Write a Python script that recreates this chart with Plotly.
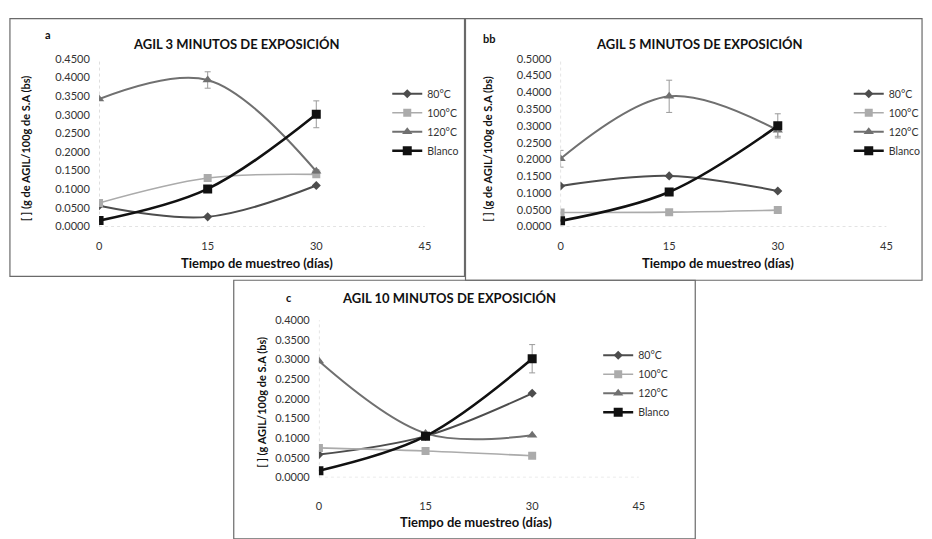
import plotly.graph_objects as go

W, H = 932, 539

# ---------------- data ----------------
dias = [0, 15, 30]
series_names = ["80°C", "100°C", "120°C", "Blanco"]

# Panel a: 3 minutos
a_80 = [0.056, 0.026, 0.110]
a_100 = [0.063, 0.130, 0.140]
a_120 = [0.342, 0.393, 0.148]
a_blanco = [0.016, 0.101, 0.301]
a_err_120 = [0.0, 0.022, 0.005]
a_err_blanco = [0.0, 0.0, 0.036]

# Panel b: 5 minutos
b_80 = [0.121, 0.151, 0.106]
b_100 = [0.042, 0.043, 0.049]
b_120 = [0.202, 0.388, 0.287]
b_blanco = [0.017, 0.103, 0.300]
b_err_120 = [0.025, 0.048, 0.018]
b_err_blanco = [0.0, 0.0, 0.036]

# Panel c: 10 minutos
c_80 = [0.058, 0.105, 0.214]
c_100 = [0.075, 0.067, 0.055]
c_120 = [0.296, 0.112, 0.107]
c_blanco = [0.017, 0.105, 0.302]
c_err_120 = [0.0, 0.0, 0.0]
c_err_blanco = [0.0, 0.0, 0.036]

x_ticks = [0, 15, 30, 45]
titles = ["AGIL 3 MINUTOS DE EXPOSICIÓN", "AGIL 5 MINUTOS DE EXPOSICIÓN",
          "AGIL 10 MINUTOS DE EXPOSICIÓN"]
panel_labels = ["a", "bb", "c"]
y_titles = ["[ ] (g de AGIL/100g de S.A (bs)", "[ ] (g de AGIL/100g de S.A (bs)",
            "[ ] (g AGIL/100g de S.A (bs)"]
x_title = "Tiempo de muestreo (días)"
y_max = [0.45, 0.5, 0.4]

# ---------------- styles ----------------
FONT = "Lato"
colors = {"80°C": "#4d4d4d", "100°C": "#ababab", "120°C": "#707070", "Blanco": "#111111"}
symbols = {"80°C": "diamond", "100°C": "square", "120°C": "triangle-up", "Blanco": "square"}
msize = {"80°C": 7, "100°C": 8, "120°C": 9, "Blanco": 9}
lwidth = {"80°C": 2, "100°C": 1.6, "120°C": 2, "Blanco": 2.6}


def fx(px):
    return px / W


def fy(py):
    return 1 - py / H


panels = [
    dict(data=[a_80, a_100, a_120, a_blanco], err={"120°C": a_err_120, "Blanco": a_err_blanco},
         xd=(97, 426), yd=(225, 53), legend=(388, 74), label=(45, 28), title=(236, 38),
         ytitle=(23, 145), xtitle=(256, 262), border=(7, 12, 466, 276), ticklen=9),
    dict(data=[b_80, b_100, b_120, b_blanco], err={"120°C": b_err_120, "Blanco": b_err_blanco},
         xd=(563, 892), yd=(225, 53), legend=(854, 74), label=(491, 32), title=(703, 38),
         ytitle=(489, 145), xtitle=(722, 262), border=(467, 12, 928, 280), ticklen=9),
    dict(data=[c_80, c_100, c_120, c_blanco], err={"120°C": c_err_120, "Blanco": c_err_blanco},
         xd=(319, 642), yd=(482, 321), legend=(601, 342), label=(289, 298), title=(450, 298),
         ytitle=(261, 405), xtitle=(478, 528), border=(233, 280, 699, 545), ticklen=18),
]

fig = go.Figure()
layout = dict(width=W, height=H, margin=dict(l=0, r=0, t=0, b=0),
              paper_bgcolor="white", plot_bgcolor="rgba(0,0,0,0)", showlegend=True)
annotations = []
shapes = []

for i, p in enumerate(panels):
    n = "" if i == 0 else str(i + 1)
    xa, ya = "x" + n, "y" + n
    leg = "legend" if i == 0 else "legend" + str(i + 1)
    for s, vals in zip(series_names, p["data"]):
        err = p["err"].get(s)
        tr = dict(x=dias, y=vals, name=s, mode="lines+markers",
                  line=dict(color=colors[s], width=lwidth[s], shape="spline", smoothing=1.0),
                  marker=dict(symbol=symbols[s], size=msize[s], color=colors[s]),
                  xaxis=xa, yaxis=ya, legend=leg, showlegend=True)
        if err is not None:
            tr["error_y"] = dict(type="data", array=err, visible=True,
                                 color="#9a9a9a", thickness=1, width=3)
        fig.add_trace(go.Scatter(**tr))

    x0, x1 = p["xd"]
    yb, yt = p["yd"]
    layout["xaxis" + n] = dict(domain=[fx(x0), fx(x1)], range=[0, 45], tickvals=x_ticks,
                               anchor=ya, showgrid=False, zeroline=False, showline=False,
                               ticks="outside", ticklen=p["ticklen"], tickcolor="rgba(0,0,0,0)",
                               tickfont=dict(family=FONT, size=11, color="#333"))
    layout["yaxis" + n] = dict(domain=[fy(yb), fy(yt)], range=[0, y_max[i]], dtick=0.05,
                               tickformat=".4f", anchor=xa, showgrid=False, zeroline=False,
                               showline=False, ticks="outside", ticklen=6,
                               tickcolor="rgba(0,0,0,0)",
                               tickfont=dict(family=FONT, size=11, color="#333"))
    lx, ly = p["legend"]
    layout[leg] = dict(x=fx(lx), y=fy(ly), xanchor="left", yanchor="top",
                       font=dict(family=FONT, size=10.5, color="#333"),
                       bgcolor="rgba(0,0,0,0)", tracegroupgap=0, itemwidth=30)

    # dotted axis lines
    shapes.append(dict(type="line", xref=xa, yref=ya + " domain", x0=0, x1=0, y0=0, y1=1,
                       line=dict(color="#c4c4c4", width=1, dash="dot"), layer="below"))
    shapes.append(dict(type="line", xref=xa + " domain", yref=ya, x0=0, x1=1, y0=0, y1=0,
                       line=dict(color="#c4c4c4", width=1, dash="dot"), layer="below"))
    # panel border
    bx0, by0, bx1, by1 = p["border"]
    shapes.append(dict(type="rect", xref="paper", yref="paper", x0=fx(bx0), x1=fx(bx1),
                       y0=fy(by1), y1=fy(by0), line=dict(color="#6a6a6a", width=1.2),
                       layer="below"))

    tx, ty = p["title"]
    annotations.append(dict(text="<b>" + titles[i] + "</b>", x=fx(tx), y=fy(ty),
                            xref="paper", yref="paper", showarrow=False,
                            xanchor="center", yanchor="middle",
                            font=dict(family=FONT, size=13, color="#111")))
    px_, py_ = p["label"]
    annotations.append(dict(text="<b>" + panel_labels[i] + "</b>", x=fx(px_), y=fy(py_),
                            xref="paper", yref="paper", showarrow=False,
                            xanchor="center", yanchor="middle",
                            font=dict(family=FONT, size=11, color="#111")))
    yx, yy = p["ytitle"]
    annotations.append(dict(text="<b>" + y_titles[i] + "</b>", x=fx(yx), y=fy(yy),
                            xref="paper", yref="paper", showarrow=False, textangle=-90,
                            xanchor="center", yanchor="middle",
                            font=dict(family=FONT, size=11, color="#111")))
    xx, xy = p["xtitle"]
    annotations.append(dict(text="<b>" + x_title + "</b>", x=fx(xx), y=fy(xy),
                            xref="paper", yref="paper", showarrow=False,
                            xanchor="center", yanchor="middle",
                            font=dict(family=FONT, size=13, color="#111")))

layout["annotations"] = annotations
layout["shapes"] = shapes
fig.update_layout(**layout)
fig.write_html("out.html", config={"displayModeBar": False},
               post_script="document.body.style.margin='0px';")
